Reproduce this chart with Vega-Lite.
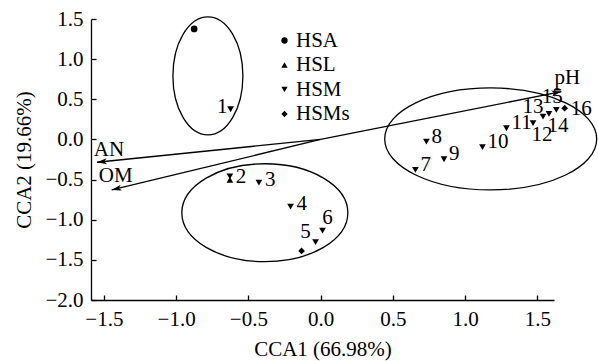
{
  "$schema": "https://vega.github.io/schema/vega-lite/v6.json",
  "width": 463,
  "height": 281,
  "autosize": "none",
  "padding": {"left": 91, "top": 19, "right": 44, "bottom": 61},
  "config": {
    "view": {"stroke": null},
    "font": "Liberation Serif",
    "axis": {
      "grid": false,
      "domainColor": "black",
      "domainWidth": 1.3,
      "tickColor": "black",
      "tickWidth": 1.3,
      "tickSize": -5,
      "labelPadding": 13,
      "labelFont": "Liberation Serif",
      "labelFontSize": 21,
      "labelColor": "black",
      "labelOverlap": false,
      "labelBound": false,
      "labelFlush": false,
      "titleFont": "Liberation Serif",
      "titleFontSize": 21,
      "titleFontWeight": "normal",
      "titleColor": "black"
    }
  },
  "datasets": {
    "pts": [
      {"id": "", "group": "HSA", "x": -0.875, "y": 1.376, "side": "none"},
      {"id": "1", "group": "HSM", "x": -0.623, "y": 0.376, "side": "l"},
      {"id": "", "group": "HSL", "x": -0.628, "y": -0.504, "side": "none"},
      {"id": "2", "group": "HSM", "x": -0.628, "y": -0.461, "side": "r0"},
      {"id": "3", "group": "HSM", "x": -0.427, "y": -0.538, "side": "r3"},
      {"id": "4", "group": "HSM", "x": -0.208, "y": -0.837, "side": "r3"},
      {"id": "5", "group": "HSM", "x": -0.035, "y": -1.28, "side": "ul"},
      {"id": "6", "group": "HSM", "x": 0.013, "y": -1.136, "side": "ur"},
      {"id": "", "group": "HSMs", "x": -0.132, "y": -1.389, "side": "none"},
      {"id": "7", "group": "HSM", "x": 0.656, "y": -0.38, "side": "r"},
      {"id": "8", "group": "HSM", "x": 0.732, "y": -0.027, "side": "r"},
      {"id": "9", "group": "HSM", "x": 0.854, "y": -0.247, "side": "r"},
      {"id": "10", "group": "HSM", "x": 1.12, "y": -0.097, "side": "r"},
      {"id": "11", "group": "HSM", "x": 1.286, "y": 0.139, "side": "r"},
      {"id": "12", "group": "HSM", "x": 1.47, "y": 0.202, "side": "b"},
      {"id": "13", "group": "HSM", "x": 1.539, "y": 0.284, "side": "ul"},
      {"id": "14", "group": "HSM", "x": 1.58, "y": 0.318, "side": "b"},
      {"id": "15", "group": "HSM", "x": 1.631, "y": 0.367, "side": "u"},
      {"id": "16", "group": "HSMs", "x": 1.689, "y": 0.389, "side": "r0"}
    ],
    "vec": [
      {"name": "AN", "x": -1.548, "y": -0.284},
      {"name": "OM", "x": -1.446, "y": -0.629},
      {"name": "pH", "x": 1.666, "y": 0.595}
    ],
    "ell": [
      {"name": "right", "x": 1.177, "y": 0.006},
      {"name": "bottom", "x": -0.386, "y": -0.913},
      {"name": "top", "x": -0.78, "y": 0.791}
    ]
  },
  "encoding": {
    "x": {
      "field": "x", "type": "quantitative",
      "scale": {"domain": [-1.589, 1.615], "nice": false, "zero": false},
      "axis": {"title": "CCA1 (66.98%)", "values": [-1.5, -1, -0.5, 0, 0.5, 1, 1.5], "format": ".1f", "titlePadding": 9}
    },
    "y": {
      "field": "y", "type": "quantitative",
      "scale": {"domain": [-2, 1.5], "nice": false, "zero": false},
      "axis": {"title": "CCA2 (19.66%)", "values": [-2, -1.5, -1, -0.5, 0, 0.5, 1, 1.5], "format": ".1f", "titlePadding": 10}
    }
  },
  "layer": [
    {
      "data": {"name": "ell"},
      "transform": [{"filter": "datum.name == 'right'"}],
      "mark": {"type": "point", "filled": false, "color": "black", "strokeWidth": 1.3, "opacity": 1, "size": 44944,
        "shape": "M1,0C1,0.2657,0.5523,0.481,0,0.481C-0.5523,0.481,-1,0.2657,-1,0C-1,-0.2657,-0.5523,-0.481,0,-0.481C0.5523,-0.481,1,-0.2657,1,0Z"}
    },
    {
      "data": {"name": "ell"},
      "transform": [{"filter": "datum.name == 'bottom'"}],
      "mark": {"type": "point", "filled": false, "color": "black", "strokeWidth": 1.3, "opacity": 1, "size": 27556,
        "shape": "M1,0C1,0.3259,0.5523,0.59,0,0.59C-0.5523,0.59,-1,0.3259,-1,0C-1,-0.3259,-0.5523,-0.59,0,-0.59C0.5523,-0.59,1,-0.3259,1,0Z"}
    },
    {
      "data": {"name": "ell"},
      "transform": [{"filter": "datum.name == 'top'"}],
      "mark": {"type": "point", "filled": false, "color": "black", "strokeWidth": 1.3, "opacity": 1, "size": 13924,
        "shape": "M0.593,0C0.593,0.5523,0.3275,1,0,1C-0.3275,1,-0.593,0.5523,-0.593,0C-0.593,-0.5523,-0.3275,-1,0,-1C0.3275,-1,0.593,-0.5523,0.593,0Z"}
    },
    {
      "data": {"name": "vec"},
      "mark": {"type": "rule", "color": "black", "strokeWidth": 1.3},
      "encoding": {"x2": {"datum": 0}, "y2": {"datum": 0}}
    },
    {
      "data": {"name": "vec"},
      "transform": [{"filter": "datum.name == 'AN'"}],
      "mark": {"type": "point", "filled": true, "color": "black", "opacity": 1, "size": 121, "angle": 264.3, "shape": "M0,0L0.55,1.8L0,1.35L-0.55,1.8Z"}
    },
    {
      "data": {"name": "vec"},
      "transform": [{"filter": "datum.name == 'OM'"}],
      "mark": {"type": "point", "filled": true, "color": "black", "opacity": 1, "size": 121, "angle": 256.4, "shape": "M0,0L0.55,1.8L0,1.35L-0.55,1.8Z"}
    },
    {
      "data": {"name": "vec"},
      "transform": [{"filter": "datum.name == 'pH'"}],
      "mark": {"type": "point", "filled": true, "color": "black", "opacity": 1, "size": 121, "angle": 78.8, "shape": "M0,0L0.55,1.8L0,1.35L-0.55,1.8Z"}
    },
    {
      "data": {"name": "pts"},
      "mark": {"type": "point", "filled": true, "color": "black", "opacity": 1, "size": 45},
      "encoding": {
        "shape": {
          "field": "group", "type": "nominal",
          "scale": {"domain": ["HSA", "HSL", "HSM", "HSMs"], "range": ["circle", "triangle-up", "triangle-down", "diamond"]},
          "legend": {"title": null, "orient": "none", "legendX": 183, "legendY": 11, "padding": 0,
            "labelFont": "Liberation Serif", "labelFontSize": 21, "labelColor": "black", "labelOffset": 1,
            "symbolSize": 40, "symbolFillColor": "black", "symbolStrokeColor": "black", "rowPadding": 2.5}
        }
      }
    },
    {
      "data": {"name": "pts"},
      "transform": [{"filter": "datum.side == 'r'"}],
      "mark": {"type": "text", "font": "Liberation Serif", "fontSize": 21, "color": "black", "align": "left", "baseline": "middle", "dx": 5, "dy": -5},
      "encoding": {"text": {"field": "id"}}
    },
    {
      "data": {"name": "pts"},
      "transform": [{"filter": "datum.side == 'r0'"}],
      "mark": {"type": "text", "font": "Liberation Serif", "fontSize": 21, "color": "black", "align": "left", "baseline": "middle", "dx": 6, "dy": 1},
      "encoding": {"text": {"field": "id"}}
    },
    {
      "data": {"name": "pts"},
      "transform": [{"filter": "datum.side == 'r3'"}],
      "mark": {"type": "text", "font": "Liberation Serif", "fontSize": 21, "color": "black", "align": "left", "baseline": "middle", "dx": 6, "dy": -3},
      "encoding": {"text": {"field": "id"}}
    },
    {
      "data": {"name": "pts"},
      "transform": [{"filter": "datum.side == 'b'"}],
      "mark": {"type": "text", "font": "Liberation Serif", "fontSize": 21, "color": "black", "align": "center", "baseline": "middle", "dx": 9, "dy": 12},
      "encoding": {"text": {"field": "id"}}
    },
    {
      "data": {"name": "pts"},
      "transform": [{"filter": "datum.side == 'ul'"}],
      "mark": {"type": "text", "font": "Liberation Serif", "fontSize": 21, "color": "black", "align": "center", "baseline": "middle", "dx": -10, "dy": -10},
      "encoding": {"text": {"field": "id"}}
    },
    {
      "data": {"name": "pts"},
      "transform": [{"filter": "datum.side == 'ur'"}],
      "mark": {"type": "text", "font": "Liberation Serif", "fontSize": 21, "color": "black", "align": "center", "baseline": "middle", "dx": 5, "dy": -13},
      "encoding": {"text": {"field": "id"}}
    },
    {
      "data": {"name": "pts"},
      "transform": [{"filter": "datum.side == 'u'"}],
      "mark": {"type": "text", "font": "Liberation Serif", "fontSize": 21, "color": "black", "align": "center", "baseline": "middle", "dx": -4, "dy": -13},
      "encoding": {"text": {"field": "id"}}
    },
    {
      "data": {"name": "pts"},
      "transform": [{"filter": "datum.side == 'l'"}],
      "mark": {"type": "text", "font": "Liberation Serif", "fontSize": 21, "color": "black", "align": "right", "baseline": "middle", "dx": -3, "dy": -2},
      "encoding": {"text": {"field": "id"}}
    },
    {
      "data": {"name": "vec"},
      "transform": [{"filter": "datum.name == 'AN'"}],
      "mark": {"type": "text", "font": "Liberation Serif", "fontSize": 21, "color": "black", "align": "center", "baseline": "middle", "dx": 12, "dy": -12},
      "encoding": {"text": {"field": "name"}}
    },
    {
      "data": {"name": "vec"},
      "transform": [{"filter": "datum.name == 'OM'"}],
      "mark": {"type": "text", "font": "Liberation Serif", "fontSize": 21, "color": "black", "align": "center", "baseline": "middle", "dx": 4, "dy": -14},
      "encoding": {"text": {"field": "name"}}
    },
    {
      "data": {"name": "vec"},
      "transform": [{"filter": "datum.name == 'pH'"}],
      "mark": {"type": "text", "font": "Liberation Serif", "fontSize": 21, "color": "black", "align": "center", "baseline": "middle", "dx": 6, "dy": -14},
      "encoding": {"text": {"field": "name"}}
    }
  ]
}
